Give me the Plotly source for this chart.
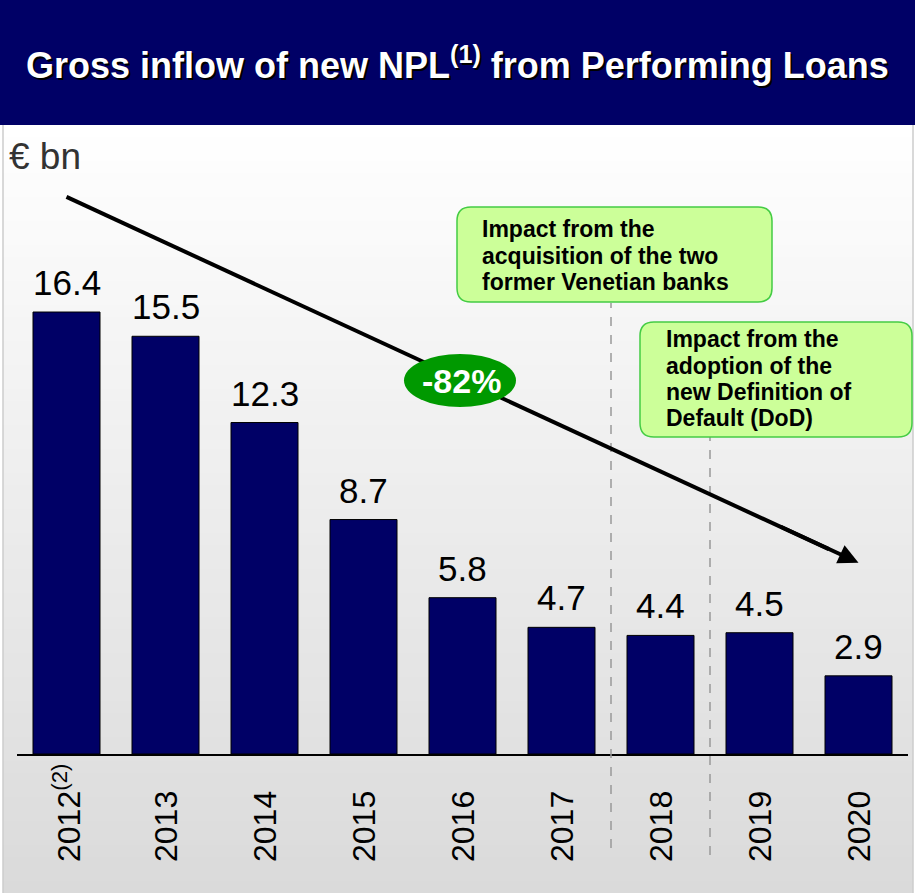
import plotly.graph_objects as go

# data (EUR bn)
years = ["2012", "2013", "2014", "2015", "2016", "2017", "2018", "2019", "2020"]
year_labels = ["2012<sup>(2)</sup>", "2013", "2014", "2015", "2016", "2017", "2018", "2019", "2020"]
inflow = [16.4, 15.5, 12.3, 8.7, 5.8, 4.7, 4.4, 4.5, 2.9]

title_text = "Gross inflow of new NPL<sup>(1)</sup> from Performing Loans"
unit_text = "€ bn"
change_text = "-82%"
box1_lines = ["Impact from the", "acquisition of the two", "former Venetian banks"]
box2_lines = ["Impact from the", "adoption of the", "new Definition of", "Default (DoD)"]

W, H = 915, 893
NAVY = "#000066"
FONT = "Liberation Sans, Arial, sans-serif"


def px(x):
    return x / W


def py(y):
    return 1 - y / H


def rounded_rect(x0, y0, x1, y1, r):
    # pixel box -> svg path in paper coords
    X = lambda v: f"{px(v):.5f}"
    Y = lambda v: f"{py(v):.5f}"
    return (
        f"M{X(x0 + r)},{Y(y0)} L{X(x1 - r)},{Y(y0)} Q{X(x1)},{Y(y0)} {X(x1)},{Y(y0 + r)} "
        f"L{X(x1)},{Y(y1 - r)} Q{X(x1)},{Y(y1)} {X(x1 - r)},{Y(y1)} "
        f"L{X(x0 + r)},{Y(y1)} Q{X(x0)},{Y(y1)} {X(x0)},{Y(y1 - r)} "
        f"L{X(x0)},{Y(y0 + r)} Q{X(x0)},{Y(y0)} {X(x0 + r)},{Y(y0)} Z"
    )


fig = go.Figure(
    go.Bar(
        x=years,
        y=inflow,
        marker=dict(color=NAVY, line=dict(color="#000000", width=1)),
        hoverinfo="skip",
    )
)

shapes = []

# background gradient (white -> light grey)
n = 64
top, bottom = 125, H
for i in range(n):
    y0 = top + (bottom - top) * i / n
    y1 = top + (bottom - top) * (i + 1) / n + 1
    g = int(round(255 - (255 - 218) * (i + 0.5) / n))
    shapes.append(dict(type="rect", xref="paper", yref="paper", layer="below",
                       x0=px(3), x1=px(913), y0=py(y1), y1=py(y0),
                       fillcolor=f"rgb({g},{g},{g})", line=dict(width=0)))
shapes.append(dict(type="line", xref="paper", yref="paper", layer="below",
                   x0=px(3), x1=px(3), y0=0, y1=py(125),
                   line=dict(color="#cccccc", width=1.5)))
shapes.append(dict(type="line", xref="paper", yref="paper", layer="below",
                   x0=px(913), x1=px(913), y0=0, y1=py(125),
                   line=dict(color="#cccccc", width=1.5)))

# title bar
shapes.append(dict(type="rect", xref="paper", yref="paper", layer="below",
                   x0=0, x1=1, y0=py(125), y1=1,
                   fillcolor=NAVY, line=dict(width=0)))

# dashed separators (between 2017/2018 and 2018/2019)
shapes.append(dict(type="line", xref="x", yref="paper", layer="above",
                   x0=5.5, x1=5.5, y0=py(848), y1=py(303),
                   line=dict(color="#999999", width=1.5, dash="dash")))
shapes.append(dict(type="line", xref="x", yref="paper", layer="above",
                   x0=6.5, x1=6.5, y0=py(855), y1=py(437),
                   line=dict(color="#999999", width=1.5, dash="dash")))

# trend arrow line
shapes.append(dict(type="line", xref="x", yref="y", layer="above",
                   x0=0, y0=20.67, x1=7.7, y1=7.6,
                   line=dict(color="#000000", width=4)))

# -82% ellipse
shapes.append(dict(type="circle", xref="paper", yref="paper", layer="above",
                   x0=px(404), x1=px(516), y0=py(407), y1=py(354),
                   fillcolor="#009900", line=dict(width=0)))

# green callout boxes
for (bx0, by0, bx1, by1) in [(457, 207, 772, 302), (640, 322, 912, 437)]:
    shapes.append(dict(type="path", xref="paper", yref="paper", layer="above",
                       path=rounded_rect(bx0, by0, bx1, by1, 14),
                       fillcolor="#ccff99", line=dict(color="#44cc44", width=1.5)))

annotations = []

# title with drop shadow
for dx, dy, col in [(2, -2, "#000000"), (0, 0, "#ffffff")]:
    annotations.append(dict(text=f"<b>{title_text}</b>", xref="paper", yref="paper",
                            x=0.5, y=py(63), xanchor="center", yanchor="middle",
                            xshift=dx, yshift=dy, showarrow=False,
                            font=dict(family=FONT, size=36, color=col)))

annotations.append(dict(text=unit_text, xref="paper", yref="paper", x=px(7), y=py(134),
                        xanchor="left", yanchor="top", showarrow=False,
                        font=dict(family=FONT, size=37, color="#333333")))

# value labels
for i, v in enumerate(inflow):
    annotations.append(dict(text=f"{v:.1f}", x=i, y=v, xref="x", yref="y",
                            xanchor="center", yanchor="bottom", yshift=8, showarrow=False,
                            font=dict(family=FONT, size=35, color="#000000")))

# rotated year labels
for i, lab in enumerate(year_labels):
    annotations.append(dict(text=lab, x=i, xref="x", yref="paper", y=py(864),
                            xanchor="center", yanchor="bottom", textangle=-90,
                            showarrow=False,
                            font=dict(family=FONT, size=32, color="#000000")))

# arrow head
annotations.append(dict(x=8.0, y=7.1, xref="x", yref="y", ax=7.2, ay=8.46,
                        axref="x", ayref="y", text="", showarrow=True,
                        arrowhead=2, arrowsize=1, arrowwidth=4, arrowcolor="#000000"))

annotations.append(dict(text=f"<b>{change_text}</b>", xref="paper", yref="paper",
                        x=px(461), y=py(381), xanchor="center", yanchor="middle",
                        showarrow=False, font=dict(family=FONT, size=34, color="#ffffff")))

# callout text, one line each so the spacing follows the slide
box_size = 23
for lines, left, base0 in [(box1_lines, 480, 237), (box2_lines, 664, 347)]:
    for k, line in enumerate(lines):
        base = base0 + k * 26.3
        annotations.append(dict(text=f"<b>{line}</b>", xref="paper", yref="paper",
                                x=px(left), y=py(base - 0.33 * box_size),
                                xanchor="left", yanchor="middle", align="left",
                                showarrow=False,
                                font=dict(family=FONT, size=box_size, color="#000000")))

baseline = 754
plot_top = 130
unit_px = 26.95

fig.update_layout(
    width=W,
    height=H,
    margin=dict(l=0, r=0, t=0, b=0),
    paper_bgcolor="white",
    plot_bgcolor="rgba(0,0,0,0)",
    bargap=1 - 67 / 99,
    showlegend=False,
    shapes=shapes,
    annotations=annotations,
    font=dict(family=FONT),
)

fig.update_xaxes(
    type="category",
    domain=[px(17), px(908)],
    range=[-0.5, 8.5],
    showticklabels=False,
    ticks="",
    showgrid=False,
    showline=True,
    linecolor="#000000",
    linewidth=2,
)
fig.update_yaxes(
    domain=[py(baseline), py(plot_top)],
    range=[0, (baseline - plot_top) / unit_px],
    visible=False,
)

fig.write_html(
    "out.html",
    config={"displayModeBar": False},
    post_script="document.body.style.margin='0px';",
)
